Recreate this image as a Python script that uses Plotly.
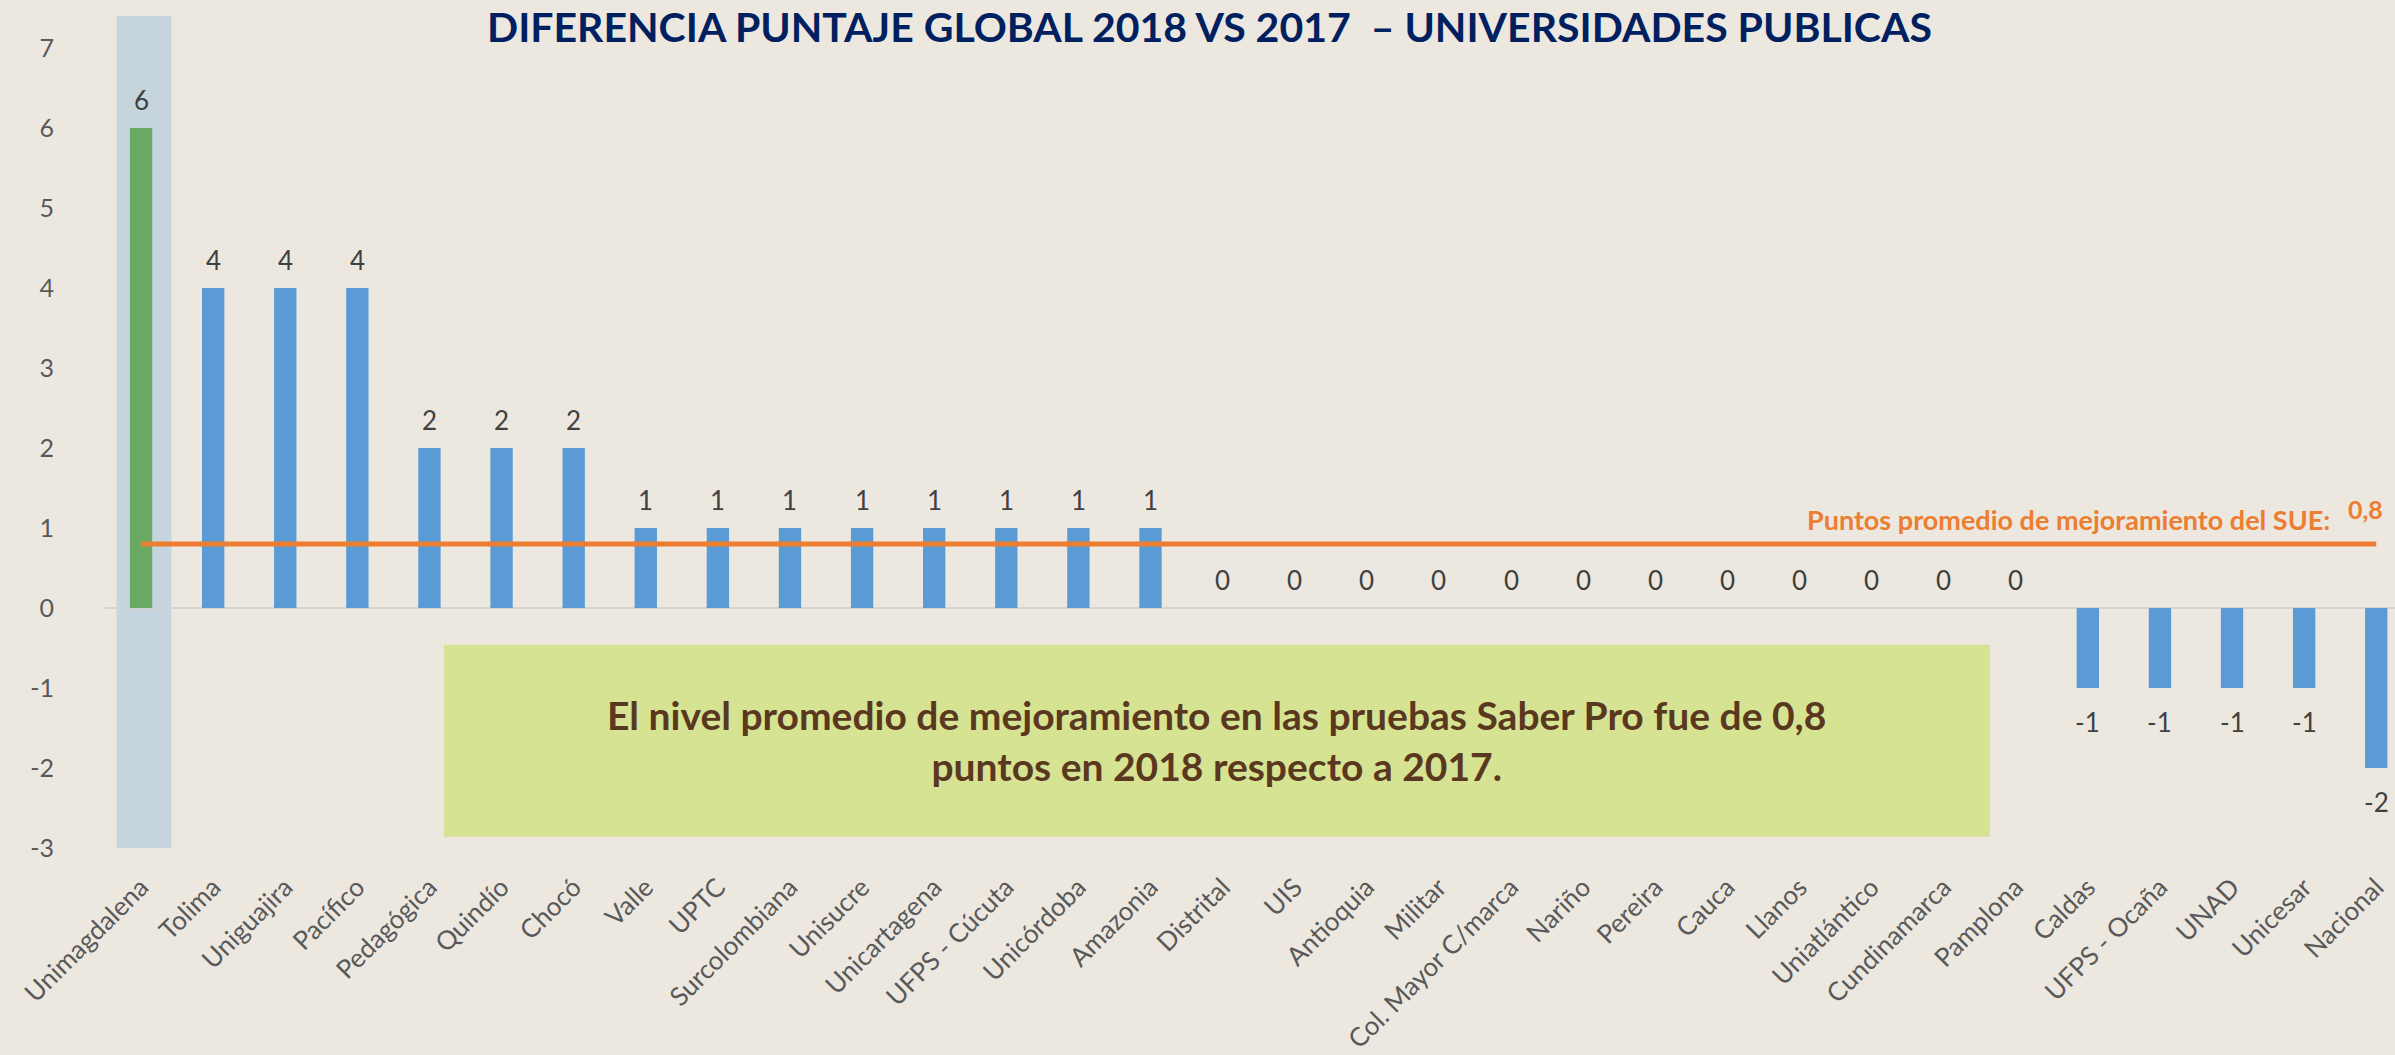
import plotly.graph_objects as go

categories = ["Unimagdalena", "Tolima", "Uniguajira", "Pacífico", "Pedagógica", "Quindío", "Chocó",
              "Valle", "UPTC", "Surcolombiana", "Unisucre", "Unicartagena", "UFPS - Cúcuta", "Unicórdoba",
              "Amazonia", "Distrital", "UIS", "Antioquia", "Militar", "Col. Mayor C/marca", "Nariño",
              "Pereira", "Cauca", "Llanos", "Uniatlántico", "Cundinamarca", "Pamplona", "Caldas",
              "UFPS - Ocaña", "UNAD", "Unicesar", "Nacional"]
values = [6, 4, 4, 4, 2, 2, 2, 1, 1, 1, 1, 1, 1, 1, 1, 0, 0, 0, 0, 0, 0, 0, 0, 0, 0, 0, 0,
          -1, -1, -1, -1, -2]
average = 0.8
y_ticks = [-3, -2, -1, 0, 1, 2, 3, 4, 5, 6, 7]

W, H = 2395, 1055
bar_colors = ["#6AAA64"] + ["#5B9BD5"] * (len(categories) - 1)

fig = go.Figure()
fig.add_trace(go.Bar(
    x=categories, y=values, marker=dict(color=bar_colors, line=dict(width=0)),
    width=0.31, showlegend=False, hoverinfo="x+y"))
fig.add_trace(go.Scatter(
    x=[categories[0], categories[-1]], y=[average, average], mode="lines",
    line=dict(color="#ED7D31", width=5), showlegend=False, hoverinfo="skip"))

# data labels
for c, v in zip(categories, values):
    fig.add_annotation(xref="x", yref="y", x=c, y=v, text=str(v), showarrow=False,
                       yshift=(28 if v >= 0 else -34), xanchor="center", yanchor="middle",
                       font=dict(family="Lato", size=26, color="#404040"))

# highlight for first category
fig.add_shape(type="rect", xref="x", yref="y", x0=-0.34, x1=0.42, y0=-3, y1=7.4,
              fillcolor="#C6D4DE", line=dict(width=0), layer="below")
# comment box
fig.add_shape(type="rect", xref="x", yref="y", x0=4.2, x1=25.64, y0=-2.86, y1=-0.46,
              fillcolor="#D5E393", line=dict(width=0), layer="above")
fig.add_annotation(xref="x", yref="y", x=14.92, y=-1.66,
                   text="<b>El nivel promedio de mejoramiento en las pruebas Saber Pro fue de 0,8<br>puntos en 2018 respecto a 2017.</b>",
                   showarrow=False, font=dict(family="Lato", size=39, color="#5A3820"),
                   align="center", xanchor="center", yanchor="middle")
fig.add_annotation(xref="x", yref="y", x=30.38, y=1.11,
                   text="<b>Puntos promedio de mejoramiento del SUE:</b>", showarrow=False,
                   font=dict(family="Lato", size=27, color="#ED7D31"), xanchor="right", yanchor="middle")
fig.add_annotation(xref="x", yref="y", x=30.85, y=1.24,
                   text="<b>0,8</b>", showarrow=False,
                   font=dict(family="Lato", size=25, color="#ED7D31"), xanchor="center", yanchor="middle")

fig.update_layout(
    width=W, height=H,
    paper_bgcolor="#ECE8E0", plot_bgcolor="rgba(0,0,0,0)",
    margin=dict(l=105, r=0, t=16, b=207, autoexpand=False),
    title=dict(text="<b>DIFERENCIA PUNTAJE GLOBAL 2018 VS 2017  – UNIVERSIDADES PUBLICAS</b>",
               x=0.505, xanchor="center", y=1 - 28 / H, yanchor="middle",
               font=dict(family="Lato", size=41, color="#002060")),
    bargap=0.69,
)
fig.update_xaxes(range=[-0.5, 31.26], tickangle=-45, showgrid=False, showline=False,
                 ticks="", tickfont=dict(family="Lato", size=26, color="#595959"),
                 ticklabelstandoff=18, automargin=False)
fig.update_yaxes(range=[-3, 7.4], tickvals=y_ticks, ticktext=[str(t) for t in y_ticks],
                 showgrid=False, showline=False,
                 zeroline=True, zerolinecolor="#D4D4D4", zerolinewidth=2,
                 ticks="", tickfont=dict(family="Lato", size=25, color="#595959"),
                 ticklabelstandoff=50, automargin=False)

fig.write_html("out.html", config={"displayModeBar": False},
               post_script="document.body.style.margin='0';document.body.style.overflow='hidden';")
